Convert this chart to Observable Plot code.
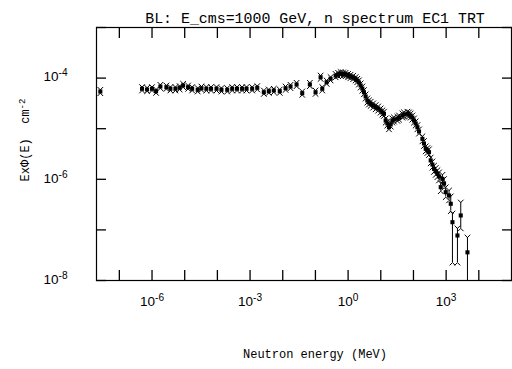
<!DOCTYPE html>
<html>
<head>
<meta charset="utf-8">
<script src="https://cdn.jsdelivr.net/npm/d3@7"></script>
<script src="https://cdn.jsdelivr.net/npm/@observablehq/plot@0.6"></script>
<style>
  html, body { margin: 0; padding: 0; background: #fff; }
</style>
</head>
<body>
<div id="chart"></div>
<script>
// ---- Data ----
const titleText = "BL: E_cms=1000 GeV, n spectrum EC1 TRT";
const xTitle = "Neutron energy (MeV)";
const yTitle = "Ex\u03A6(E)  cm^-2";

// neutron energy (MeV)
const energy = [
  2.62e-8, 4.95e-7, 7.06e-7, 1.00e-6, 1.33e-6, 1.80e-6, 2.75e-6, 3.65e-6, 5.2e-6, 7.0e-6,
  8.95e-6, 1.27e-5, 1.69e-5, 2.5e-5, 3.25e-5, 4.6e-5, 6.4e-5, 9.4e-5, 1.33e-4, 2.0e-4,
  2.84e-4, 4.0e-4, 5.7e-4, 7.8e-4, 1.16e-3, 1.66e-3, 2.64e-3, 3.75e-3, 5.33e-3, 8.1e-3,
  1.22e-2, 1.73e-2, 2.65e-2, 3.95e-2, 6.76e-2, 0.101, 0.144, 0.162, 0.22, 0.291,
  0.415, 0.494, 0.59, 0.703, 0.84, 1.0, 1.19, 1.43, 1.70, 1.91,
  2.14, 2.42, 2.73, 3.05, 3.44, 3.87, 4.35, 4.9, 5.84, 6.97,
  8.32, 9.9, 11.2, 12.5, 14.1, 15.9, 17.8, 20.1, 22.6, 25.3,
  32.2, 36.1, 45.8, 51.3, 65.2, 73, 82.2, 92.7, 104, 117,
  132, 148, 188, 210, 237, 267, 299, 337, 380, 426,
  480, 541, 605, 683, 769, 863, 972, 1227, 1384
];
// E x Phi(E)  (cm^-2)
const flux = [
  5.43e-5, 6.15e-5, 5.96e-5, 6.15e-5, 5.51e-5, 6.82e-5, 6.61e-5, 6.15e-5, 6.15e-5, 6.43e-5,
  7.14e-5, 6.61e-5, 6.15e-5, 5.87e-5, 6.31e-5, 6.15e-5, 6.15e-5, 6.15e-5, 5.87e-5, 5.87e-5,
  6.15e-5, 6.15e-5, 6.15e-5, 6.15e-5, 6.15e-5, 6.43e-5, 5.26e-5, 5.51e-5, 5.69e-5, 5.51e-5,
  6.31e-5, 6.82e-5, 7.48e-5, 5.04e-5, 7.48e-5, 5.26e-5, 1.04e-4, 6.15e-5, 8.3e-5, 9.7e-5,
  1.12e-4, 1.18e-4, 1.22e-4, 1.20e-4, 1.18e-4, 1.12e-4, 1.08e-4, 1.03e-4, 9.7e-5, 8.97e-5,
  8.2e-5, 7.14e-5, 6.2e-5, 5.26e-5, 4.33e-5, 3.6e-5, 3.3e-5, 3.1e-5, 2.87e-5, 2.66e-5,
  2.5e-5, 2.29e-5, 2.09e-5, 1.97e-5, 1.45e-5, 1.27e-5, 1.07e-5, 1.21e-5, 1.45e-5, 1.52e-5,
  1.57e-5, 1.66e-5, 1.82e-5, 1.91e-5, 1.97e-5, 1.91e-5, 1.82e-5, 1.66e-5, 1.45e-5, 1.27e-5,
  1.07e-5, 8.8e-6, 6.3e-6, 5.1e-6, 4.0e-6, 3.7e-6, 3.44e-6, 2.36e-6, 1.96e-6, 1.61e-6,
  1.43e-6, 1.29e-6, 1.14e-6, 6.98e-7, 1.02e-6, 8.3e-7, 5.56e-7, 4.79e-7, 3.28e-7
];
// multiplicative half-size of the error bar for each point above
const errFactor = [
  1.08, 1.08, 1.08, 1.08, 1.08, 1.08, 1.08, 1.08, 1.08, 1.08,
  1.08, 1.08, 1.08, 1.08, 1.08, 1.08, 1.08, 1.08, 1.08, 1.08,
  1.08, 1.08, 1.08, 1.08, 1.08, 1.08, 1.08, 1.08, 1.08, 1.08,
  1.08, 1.08, 1.08, 1.08, 1.08, 1.08, 1.08, 1.08, 1.08, 1.08,
  1.08, 1.08, 1.08, 1.08, 1.08, 1.08, 1.08, 1.08, 1.08, 1.08,
  1.1, 1.1, 1.1, 1.1, 1.1, 1.1, 1.1, 1.1, 1.1, 1.1,
  1.1, 1.1, 1.1, 1.1, 1.1, 1.1, 1.1, 1.1, 1.1, 1.1,
  1.1, 1.1, 1.1, 1.1, 1.1, 1.1, 1.1, 1.1, 1.1, 1.1,
  1.1, 1.1, 1.12, 1.12, 1.12, 1.12, 1.14, 1.14, 1.15, 1.15,
  1.17, 1.17, 1.2, 1.2, 1.2, 1.22, 1.25, 1.25, 1.4
];
// last points with large asymmetric errors
const tailEnergy = [1560, 2218, 2800, 4490];
const tailFlux   = [1.42e-7, 7.75e-8, 1.93e-7, 3.6e-8];
const tailLow    = [2.26e-8, 2.26e-8, 1.07e-7, 1.0e-8];
const tailHigh   = [2.1e-7, 1.07e-7, 3.48e-7, 7.08e-8];

const xTicks = [1e-7, 1e-6, 1e-5, 1e-4, 1e-3, 1e-2, 1e-1, 1, 1e1, 1e2, 1e3, 1e4];
const xLabels = [1e-6, 1e-3, 1, 1e3];
const yTicks = [1e-8, 1e-7, 1e-6, 1e-5, 1e-4, 1e-3];
const yLabels = [1e-8, 1e-6, 1e-4];

// ---- Build table ----
const pts = energy.map((E, i) => ({E, v: flux[i], lo: flux[i] / errFactor[i], hi: flux[i] * errFactor[i]}))
  .concat(tailEnergy.map((E, i) => ({E, v: tailFlux[i], lo: tailLow[i], hi: tailHigh[i]})));

const pow10 = d => "10^" + Math.round(Math.log10(d));

// error-bar caps: forks
const capUp = {draw(ctx, size) { const r = Math.sqrt(size / Math.PI); ctx.moveTo(-r, -r); ctx.lineTo(0, 0); ctx.lineTo(r, -r); }};
const capDown = {draw(ctx, size) { const r = Math.sqrt(size / Math.PI); ctx.moveTo(-r, r); ctx.lineTo(0, 0); ctx.lineTo(r, r); }};

const font = "'Liberation Sans', Helvetica, Arial, sans-serif";
const mono = "'Liberation Mono', 'DejaVu Sans Mono', monospace";

const chart = Plot.plot({
  width: 512,
  height: 369,
  marginLeft: 96,
  marginRight: 1,
  marginTop: 27,
  marginBottom: 89,
  style: {fontFamily: font, fontSize: "13px", color: "black", background: "white"},
  x: {type: "log", domain: [2e-8, 1e5], label: null},
  y: {type: "log", domain: [1e-8, 1e-3], label: null},
  marks: [
    Plot.frame({stroke: "black", strokeWidth: 1.2}),
    // inward ticks on all four sides
    Plot.axisX({anchor: "bottom", ticks: xTicks, tickSize: -10, tickFormat: () => "", strokeWidth: 1.3, label: null}),
    Plot.axisX({anchor: "top", ticks: xTicks, tickSize: -10, tickFormat: () => "", strokeWidth: 1.3, label: null}),
    Plot.axisY({anchor: "left", ticks: yTicks, tickSize: -10, tickFormat: () => "", strokeWidth: 1.3, label: null}),
    Plot.axisY({anchor: "right", ticks: yTicks, tickSize: -10, tickFormat: () => "", strokeWidth: 1.3, label: null}),
    // labels
    Plot.axisX({anchor: "bottom", ticks: xLabels, tickSize: 0, tickPadding: 16, tickFormat: pow10, fontSize: 13.5, label: null}),
    Plot.axisY({anchor: "left", ticks: yLabels, tickSize: 0, tickPadding: 53, tickFormat: pow10, fontSize: 13.5, textAnchor: "start", dy: -1, label: null}),
    // data: error bars, caps, markers
    Plot.ruleX(pts, {x: "E", y1: "lo", y2: "hi", stroke: "black", strokeWidth: 1, clip: true}),
    Plot.dot(pts, {x: "E", y: "hi", symbol: capUp, r: 2.8, stroke: "black", strokeWidth: 1, fill: "none", clip: true}),
    Plot.dot(pts, {x: "E", y: "lo", symbol: capDown, r: 2.8, stroke: "black", strokeWidth: 1, fill: "none", clip: true}),
    Plot.dot(pts, {x: "E", y: "v", symbol: "square", r: 2.3, fill: "black", stroke: "none"}),
    // titles
    Plot.text([titleText], {frameAnchor: "top", dy: -15, dx: 11, fontFamily: mono, fontSize: 14.9}),
    Plot.text([xTitle], {frameAnchor: "bottom", dy: 77, dx: 11, fontFamily: mono, fontSize: 12}),
    Plot.text([yTitle], {frameAnchor: "left", textAnchor: "middle", dx: -71, dy: -14, rotate: -90, fontFamily: mono, fontSize: 12})
  ]
});

// turn "a^b" into a real superscript (tspan)
d3.select(chart).selectAll("text").each(function() {
  const t = this.textContent;
  if (!t.includes("^")) return;
  const [base, exp] = t.split("^");
  const el = d3.select(this);
  el.text(base);
  el.append("tspan").attr("dy", "-0.5em").attr("font-size", "75%").text(exp);
});

document.getElementById("chart").appendChild(chart);
</script>
</body>
</html>
